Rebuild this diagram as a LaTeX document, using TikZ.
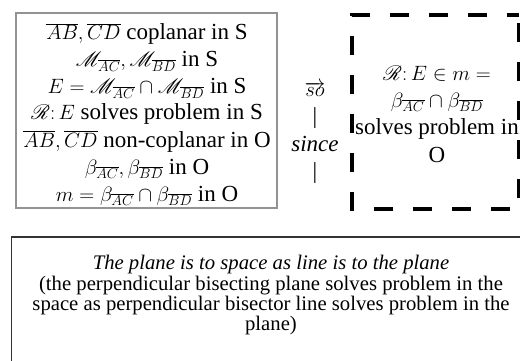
\documentclass[tikz,border=0pt]{standalone}
\usepackage{fontspec}
\setmainfont{Liberation Serif}
\usepackage{mathrsfs}
\newcommand{\mth}[1]{{\fontsize{22}{27}\selectfont$#1$}}
\begin{document}
\begin{tikzpicture}[x=1pt,y=-1pt,
  big/.style={font=\rmfamily\fontsize{23}{27}\selectfont, inner sep=0pt, anchor=base},
  small/.style={font=\rmfamily\fontsize{20.7}{20.3}\selectfont, inner sep=0pt, anchor=base},
  greybox/.style={draw=gray!85, line width=1.3pt},
  dashbox/.style={draw=black, line width=4pt, dash pattern=on 19pt off 20pt, dash phase=7pt},
  plainbox/.style={draw=black!80, line width=1.3pt}]
\useasboundingbox (0,0) rectangle (520,361);
\fill[white] (0,0) rectangle (520,361);

% left box
\draw[greybox] (16,13) rectangle (277,208);
\node[big] (l1) at (147,40) {\mth{\overline{AB},\overline{CD}} coplanar in S};
\node[big] (l2) at (147,67) {\mth{\mathscr{M}_{\overline{AC}},\mathscr{M}_{\overline{BD}}} in S};
\node[big] (l3) at (147,94) {\mth{E=\mathscr{M}_{\overline{AC}}\cap\mathscr{M}_{\overline{BD}}} in S};
\node[big] (l4) at (147,120) {\mth{\mathscr{R}\colon E} solves problem in S};
\node[big] (l5) at (147,147) {\mth{\overline{AB},\overline{CD}} non-coplanar in O};
\node[big] (l6) at (147,174) {\mth{\beta_{\overline{AC}},\beta_{\overline{BD}}} in O};
\node[big] (l7) at (147,201) {\mth{m=\beta_{\overline{AC}}\cap\beta_{\overline{BD}}} in O};

% middle
\node[big] (so) at (315,97) {\mth{\overrightarrow{so}}};
\node[big] (bar1) at (315,124) {|};
\node[big] (since) at (315,151) {\textit{since}};
\node[big] (bar2) at (315,178) {|};

% dashed box
\draw[dashbox] (519,15) -- (352,15) -- (352,209) -- (519,209) -- cycle;
\node[big] (r1) at (437,81) {\mth{\mathscr{R}\colon E\in m=}};
\node[big] (r2) at (437,107) {\mth{\beta_{\overline{AC}}\cap\beta_{\overline{BD}}}};
\node[big] (r3) at (437,135) {solves problem in};
\node[big] (r4) at (437,162) {O};

% bottom box
\draw[plainbox] (520,237) -- (11.5,237) -- (11.5,361);
\node[small] (b1) at (271,269) {\textit{The plane is to space as line is to the plane}};
\node[small] (b2) at (271,290) {(the perpendicular bisecting plane solves problem in the};
\node[small] (b3) at (271,310) {space as perpendicular bisector line solves problem in the};
\node[small] (b4) at (271,330) {plane)};
\end{tikzpicture}
\end{document}
